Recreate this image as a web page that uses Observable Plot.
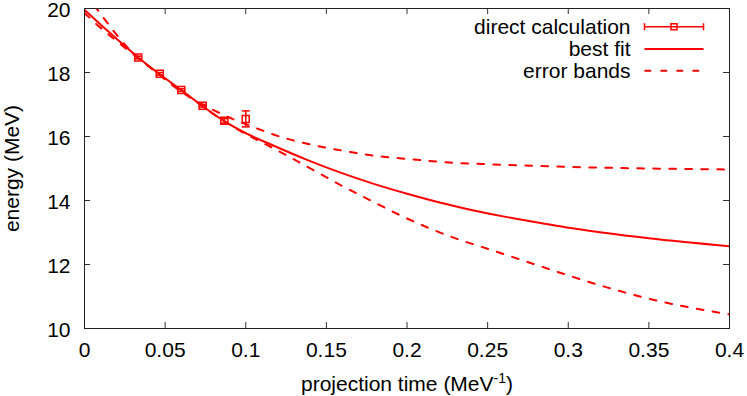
<!DOCTYPE html>
<html>
<head>
<meta charset="utf-8">
<script src="https://cdn.jsdelivr.net/npm/d3@7"></script>
<script src="https://cdn.jsdelivr.net/npm/@observablehq/plot@0.6"></script>
<style>
  html, body { margin: 0; padding: 0; background: #fff; }
</style>
</head>
<body>
<div id="chart"></div>
<script>
// Tick values
const xTicks = [0, 0.05, 0.1, 0.15, 0.2, 0.25, 0.3, 0.35, 0.4];
const yTicks = [10, 12, 14, 16, 18, 20];

// Direct calculation (data points with error bars)
const pointTime   = [0.0333, 0.0467, 0.06, 0.0733, 0.0867, 0.1];
const pointEnergy = [18.47, 17.96, 17.45, 16.96, 16.49, 16.55];
const pointError  = [0.04, 0.04, 0.04, 0.04, 0.07, 0.25];

// Best fit curve
const fitTime   = [0, 0.015, 0.0333, 0.06, 0.0867, 0.097, 0.1174, 0.138, 0.1588, 0.1794, 0.2001, 0.2208, 0.2414, 0.2621, 0.2828, 0.3014, 0.35, 0.4];
const fitEnergy = [19.96, 19.27, 18.47, 17.45, 16.48, 16.18, 15.71, 15.27, 14.87, 14.52, 14.21, 13.93, 13.69, 13.48, 13.30, 13.14, 12.82, 12.57];

// Upper error band
const upperTime   = [0, 0.0079, 0.0145, 0.0207, 0.0269, 0.045, 0.06, 0.0843, 0.0936, 0.1029, 0.1129, 0.1216, 0.1412, 0.1608, 0.1815, 0.2022, 0.2228, 0.2518, 0.2828, 0.3014, 0.35, 0.4];
const upperEnergy = [20.5, 19.97, 19.53, 19.13, 18.77, 17.98, 17.40, 16.72, 16.51, 16.33, 16.14, 15.99, 15.74, 15.55, 15.39, 15.29, 15.20, 15.13, 15.08, 15.05, 15.0, 14.97];

// Lower error band
const lowerTime   = [0, 0.0083, 0.0166, 0.0333, 0.06, 0.08, 0.0978, 0.106, 0.1236, 0.1412, 0.1588, 0.1763, 0.1949, 0.2135, 0.2321, 0.2507, 0.2693, 0.2879, 0.3, 0.325, 0.35, 0.375, 0.4];
const lowerEnergy = [19.86, 19.47, 19.12, 18.45, 17.43, 16.70, 16.14, 15.92, 15.46, 14.97, 14.48, 14.03, 13.56, 13.14, 12.78, 12.48, 12.17, 11.86, 11.66, 11.27, 10.93, 10.66, 10.44];

const legendLabels = ["direct calculation", "best fit", "error bands"];

const RED = "#ff0000";
const zip = (ts, es) => ts.map((t, i) => ({t, e: es[i]}));
const points = pointTime.map((t, i) => ({t, e: pointEnergy[i], err: pointError[i]}));

const W = 747, H = 396, ML = 84, MR = 18, MT = 8, MB = 68;
const innerW = W - ML - MR, innerH = H - MT - MB;
const TICK = 6;
const DASH = "6.7,9.3";

const capSymbol = {draw(ctx) { ctx.moveTo(-4, 0); ctx.lineTo(4, 0); }};
const legendErr = {draw(ctx) {
  ctx.moveTo(-29.5, 0); ctx.lineTo(29.5, 0);
  ctx.moveTo(-29.5, -3.5); ctx.lineTo(-29.5, 3.5);
  ctx.moveTo(29.5, -3.5); ctx.lineTo(29.5, 3.5);
}};
const legendLine = {draw(ctx) { ctx.moveTo(-29.5, 0); ctx.lineTo(29.5, 0); }};

const fmt = d => String(+d.toFixed(2));

const chart = Plot.plot({
  width: W, height: H,
  marginLeft: ML, marginRight: MR, marginTop: MT, marginBottom: MB,
  style: {fontFamily: "'Liberation Sans', Arial, Helvetica, sans-serif", fontSize: "21px", color: "#000", background: "#fff"},
  x: {domain: [0, 0.4]},
  y: {domain: [10, 20]},
  marks: [
    Plot.axisX(xTicks, {tickSize: 0, tickPadding: 14, tickFormat: fmt, label: "projection time (MeV-1)", labelAnchor: "center", labelOffset: 62, labelArrow: "none"}),
    Plot.axisY(yTicks, {tickSize: 0, tickPadding: 14, dy: 1.5, tickFormat: d => String(d), label: null}),
    Plot.axisY({ticks: [], tickSize: 0, label: "energy (MeV)", labelAnchor: "center", labelOffset: 80, labelArrow: "none"}),
    // inside ticks on all four sides
    Plot.ruleX(xTicks, {x: d => d, insetTop: innerH - TICK, stroke: "#333"}),
    Plot.ruleX(xTicks, {x: d => d, insetBottom: innerH - TICK, stroke: "#333"}),
    Plot.ruleY(yTicks, {y: d => d, insetRight: innerW - TICK, stroke: "#333"}),
    Plot.ruleY(yTicks, {y: d => d, insetLeft: innerW - TICK, stroke: "#333"}),
    // curves
    Plot.line(zip(upperTime, upperEnergy), {x: "t", y: "e", stroke: RED, strokeWidth: 2, strokeDasharray: DASH, curve: "monotone-x", clip: true}),
    Plot.line(zip(lowerTime, lowerEnergy), {x: "t", y: "e", stroke: RED, strokeWidth: 2, strokeDasharray: DASH, curve: "monotone-x", clip: true}),
    Plot.line(zip(fitTime, fitEnergy), {x: "t", y: "e", stroke: RED, strokeWidth: 2, curve: "monotone-x", clip: true}),
    // data points with error bars
    Plot.ruleX(points, {x: "t", y1: d => d.e - d.err, y2: d => d.e + d.err, stroke: RED, strokeWidth: 1.5}),
    Plot.dot(points, {x: "t", y: d => d.e + d.err, symbol: capSymbol, r: 4, stroke: RED, strokeWidth: 1.5}),
    Plot.dot(points, {x: "t", y: d => d.e - d.err, symbol: capSymbol, r: 4, stroke: RED, strokeWidth: 1.5}),
    Plot.dot(points, {x: "t", y: "e", symbol: "square", r: 3.95, stroke: RED, fill: "none", strokeWidth: 1.5}),
    // legend
    Plot.text([legendLabels.join("\n")], {frameAnchor: "top-right", dx: -99, dy: 40.6, textAnchor: "end", lineAnchor: "middle", lineHeight: 1.05, fill: "#000"}),
    Plot.dot([0], {frameAnchor: "top-right", dx: -55.5, dy: 18.3, symbol: legendErr, r: 4, stroke: RED, strokeWidth: 1.5}),
    Plot.dot([0], {frameAnchor: "top-right", dx: -55.5, dy: 18.3, symbol: "square", r: 3.4, stroke: RED, fill: "none", strokeWidth: 1.5}),
    Plot.dot([0], {frameAnchor: "top-right", dx: -55.5, dy: 40.6, symbol: legendLine, r: 4, stroke: RED, strokeWidth: 2}),
    Plot.dot([0], {frameAnchor: "top-right", dx: -55.5, dy: 62.3, symbol: legendLine, r: 4, stroke: RED, strokeWidth: 2, strokeDasharray: DASH}),
    Plot.frame({stroke: "#222", strokeWidth: 1})
  ]
});

// superscript for MeV^-1 in the x label
for (const t of chart.querySelectorAll("text")) {
  if (t.textContent === "projection time (MeV-1)") {
    const ns = "http://www.w3.org/2000/svg";
    const target = t.querySelector("tspan") || t;
    target.textContent = "projection time (MeV";
    const sup = document.createElementNS(ns, "tspan");
    sup.setAttribute("dy", "-8");
    sup.setAttribute("font-size", "14");
    sup.textContent = "-1";
    const close = document.createElementNS(ns, "tspan");
    close.setAttribute("dy", "8");
    close.textContent = ")";
    target.appendChild(sup);
    target.appendChild(close);
  }
}

document.getElementById("chart").appendChild(chart);
</script>
</body>
</html>
